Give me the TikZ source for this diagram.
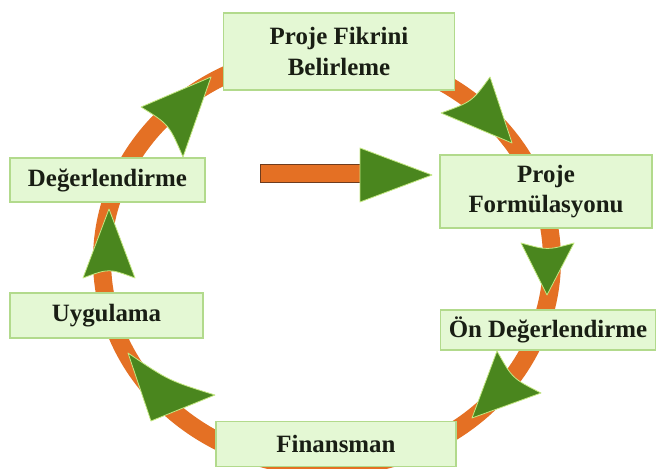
\documentclass[tikz,border=0pt]{standalone}
\usepackage{fontspec}
\setmainfont{Liberation Serif}
\usetikzlibrary{calc,positioning}
\definecolor{boxfill}{RGB}{228,248,212}
\definecolor{boxline}{RGB}{178,218,140}
\definecolor{ringorange}{RGB}{228,112,36}
\definecolor{headgreen}{RGB}{74,134,30}
\definecolor{headrim}{RGB}{196,232,130}
\definecolor{bartrim}{RGB}{110,60,30}
\definecolor{textdark}{RGB}{25,30,20}
\newcommand{\ringhead}[3]{%
  \draw[greenhead] (#2) -- (#1) -- (#3) .. controls ($(#2)!0.5!(#3)!0.14!(#1)$) .. (#2) -- cycle;}

\begin{document}
\begin{tikzpicture}[x=1bp,y=-1bp]
	\tikzstyle{stage}=[draw=boxline,fill=boxfill,line width=1.2bp,text=textdark,font=\fontsize{25}{31}\selectfont\bfseries,align=center,inner sep=0pt]
	\tikzstyle{greenhead}=[fill=headgreen,draw=headrim,line width=0.8bp,line join=round]
	\tikzstyle{ring}=[draw=ringorange,line width=18bp]
	
	\useasboundingbox (0,0) rectangle (657,469);
	\fill[white] (0,0) rectangle (657,469);
	
	%
	% cycle ring
	%
	\draw[ring] (327,260) ellipse [x radius=225, y radius=207];
	
	\ringhead{211,77}{141,107}{183,157}
	\ringhead{512,143}{441,113}{490,77}
	\ringhead{547,295}{521,243}{574,243}
	\ringhead{472,418}{497,351}{541,393}
	\ringhead{151,421}{128,353}{215,395}
	\ringhead{109,209}{83,278}{135,278}
	
	%
	% middle arrow
	%
	\coordinate (bar-start) at (260,165);
	\coordinate (bar-end) at (368,183);
	\coordinate (tip) at (432,175);
	\draw[fill=ringorange,draw=bartrim,line width=1bp] (bar-start) rectangle (bar-end);
	\draw[greenhead] (360,148) -- (tip) -- (360,202) -- cycle;
	
	%
	% stages
	%
	\node [stage,minimum width=231bp,minimum height=77bp] (fikir) at (339,51.5) {Proje Fikrini\\Belirleme};
	\node [stage,minimum width=212bp,minimum height=73bp] (formul) at (546,191.5) {Proje\\Formülasyonu};
	\node [stage,minimum width=215bp,minimum height=40bp] (oneval) at (548,330) {Ön Değerlendirme};
	\node [stage,minimum width=240bp,minimum height=45bp] (finans) at (336,444) {Finansman};
	\node [stage,minimum width=193bp,minimum height=45bp] (uygula) at (106.5,315.5) {Uygulama};
	\node [stage,minimum width=195bp,minimum height=44bp] (degerlen) at (107.5,180) {Değerlendirme};
	
\end{tikzpicture}
\end{document}
